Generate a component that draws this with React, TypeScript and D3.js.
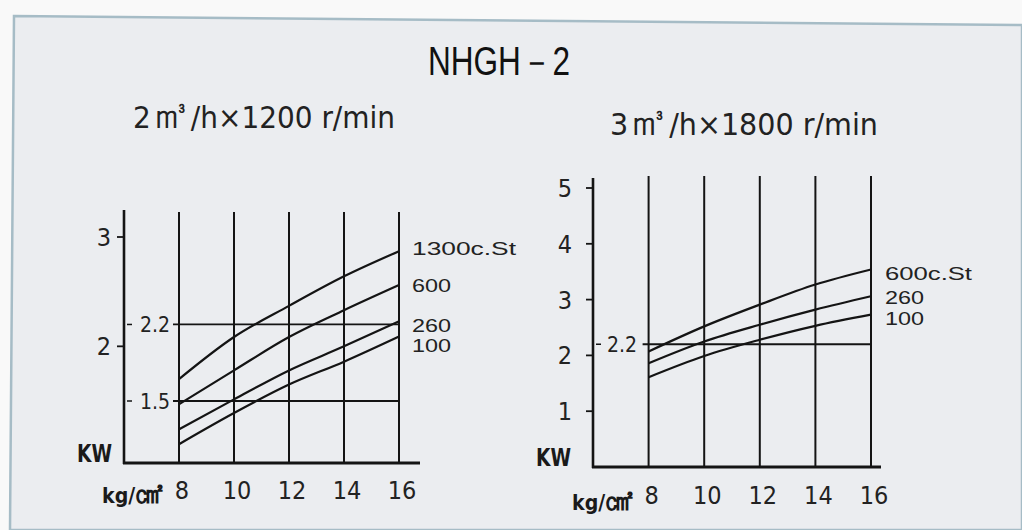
import React from "react";
import * as d3 from "d3";

const W = 1022;
const H = 530;

const title = "NHGH－2";
const leftSubtitle = ["2", "㎥", "/h×1200 r/min"];
const rightSubtitle = ["3", "㎥", "/h×1800 r/min"];

const pressures = [8, 10, 12, 14, 16];
const pressureTickLabels = ["8", "10", "12", "14", "16"];

const leftSeriesNames = ["1300c.St", "600", "260", "100"];
const left1300 = [1.70, 2.085, 2.37, 2.64, 2.87];
const left600 = [1.47, 1.78, 2.085, 2.33, 2.56];
const left260 = [1.24, 1.515, 1.78, 2.0, 2.23];
const left100 = [1.105, 1.39, 1.65, 1.86, 2.09];
const leftLabelAt = [2.90, 2.56, 2.195, 2.01];
const leftYTicks = [2, 3];
const leftRefs = [2.2, 1.5];

const rightSeriesNames = ["600c.St", "260", "100"];
const right600 = [2.07, 2.52, 2.91, 3.27, 3.54];
const right260 = [1.86, 2.25, 2.55, 2.82, 3.06];
const right100 = [1.61, 1.99, 2.28, 2.53, 2.73];
const rightLabelAt = [3.48, 3.05, 2.675];
const rightYTicks = [1, 2, 3, 4, 5];
const rightRefs = [2.2];

const yUnit = "KW";
const xUnit = ["kg/", "㎠"];

const INK = "#141414";
const NARROW = "'Liberation Sans Narrow', 'DejaVu Sans Condensed', 'Liberation Sans', sans-serif";
const SANS = "'Liberation Sans', Arial, sans-serif";

type PanelProps = {
  x0: number; x1: number; yBase: number;
  yDomain: [number, number]; yRange: [number, number];
  gridTop: number; axisTop: number; baseEnd: number;
  series: number[][]; names: string[]; labelAt: number[];
  yTicks: number[]; refs: number[];
  labelX: number; kwX: number; kgX: number; kgY: number; xLabY: number;
  refLabelDx: number; refLineStartDx: number; tickLabelX: number;
};

function Panel(p: PanelProps) {
  const x = d3.scaleLinear().domain([6, 16]).range([p.x0, p.x1]);
  const y = d3.scaleLinear().domain(p.yDomain).range(p.yRange);
  const line = d3
    .line<number>()
    .x((_, i) => x(pressures[i]))
    .y((d) => y(d))
    .curve(d3.curveMonotoneX);
  const axisX = x(6);
  return (
    <g>
      {pressures.map((v) => (
        <line key={"g" + v} x1={x(v)} x2={x(v)} y1={p.gridTop} y2={p.yBase} stroke={INK} strokeWidth={2} />
      ))}
      {p.refs.map((r) => (
        <g key={"r" + r}>
          <line x1={x(8) - p.refLineStartDx} x2={x(16)} y1={y(r)} y2={y(r)} stroke={INK} strokeWidth={1.8} />
          <line x1={axisX + 3} x2={axisX + 8} y1={y(r)} y2={y(r)} stroke={INK} strokeWidth={1.5} />
          <text x={axisX + p.refLabelDx} y={y(r)} dy="0.36em" fontSize={21} fontFamily={NARROW} fill="#222">
            {String(r)}
          </text>
        </g>
      ))}
      {p.series.map((s, i) => (
        <path key={"s" + i} d={line(s) || ""} fill="none" stroke={INK} strokeWidth={2.2} />
      ))}
      <line x1={axisX} x2={axisX} y1={p.axisTop} y2={p.yBase + 1} stroke={INK} strokeWidth={2.6} />
      {p.yTicks.map((t) => (
        <g key={"t" + t}>
          <line x1={axisX - 7} x2={axisX} y1={y(t)} y2={y(t)} stroke={INK} strokeWidth={1.8} />
          <text x={p.tickLabelX} y={y(t)} dy="0.36em" textAnchor="middle" fontSize={25} fontFamily={NARROW} fill="#222">
            {String(t)}
          </text>
        </g>
      ))}
      <line x1={axisX - 1} x2={p.baseEnd} y1={p.yBase} y2={p.yBase} stroke={INK} strokeWidth={3} />
      {pressures.map((v, i) => (
        <text key={"xl" + v} x={x(v) + 3} y={p.xLabY} textAnchor="middle" fontSize={25} fontFamily={NARROW} fill="#222">
          {pressureTickLabels[i]}
        </text>
      ))}
      {p.names.map((n, i) => (
        <text key={"n" + i} x={p.labelX} y={y(p.labelAt[i])} dy="0.36em" fontSize={19} fontFamily={SANS} fill="#222"
          textLength={n.length > 3 ? (n.length === 8 ? 104 : 87) : 39} lengthAdjust="spacingAndGlyphs">
          {n}
        </text>
      ))}
      <text x={p.kwX} y={p.yBase - 1} fontSize={25} fontWeight="bold" fontFamily={NARROW} fill="#1a1a1a"
        textLength={35} lengthAdjust="spacingAndGlyphs">{yUnit}</text>
      <text x={p.kgX} y={p.kgY} fontWeight="bold" fontFamily={NARROW} fill="#1a1a1a"
        textLength={62} lengthAdjust="spacingAndGlyphs">
        <tspan fontSize={22}>{xUnit[0]}</tspan>
        <tspan fontSize={30}>{xUnit[1]}</tspan>
      </text>
    </g>
  );
}

function Subtitle({ x, y, parts, len }: { x: number; y: number; parts: string[]; len: number }) {
  return (
    <text x={x} y={y} fontFamily={NARROW} fill="#222" textLength={len} lengthAdjust="spacingAndGlyphs">
      <tspan fontSize={31}>{parts[0]}</tspan>
      <tspan fontSize={40}>{parts[1]}</tspan>
      <tspan fontSize={31}>{parts[2]}</tspan>
    </text>
  );
}

export default function App() {
  return (
    <div style={{ position: "absolute", left: 0, top: 0 }}>
      <svg width={W} height={H} viewBox={`0 0 ${W} ${H}`} style={{ display: "block" }}>
        <rect x={0} y={0} width={W} height={H} fill="#f9f9f9" />
        <path d="M14,16 L1022,25 L1022,530 L10,530 Z" fill="#ebedf0" stroke="#a6bcc6" strokeWidth={2.5} />
        <text x={428} y={75} fontSize={40} fontFamily={SANS} fill="#111" textLength={142} lengthAdjust="spacingAndGlyphs">
          {title}
        </text>
        <Subtitle x={133} y={128} parts={leftSubtitle} len={262} />
        <Subtitle x={610} y={135} parts={rightSubtitle} len={268} />
        <Panel
          x0={124} x1={399} yBase={463}
          yDomain={[3, 1.5]} yRange={[237, 401]}
          gridTop={212} axisTop={210} baseEnd={420}
          series={[left1300, left600, left260, left100]} names={leftSeriesNames} labelAt={leftLabelAt}
          yTicks={leftYTicks} refs={leftRefs}
          labelX={412} kwX={77} kgX={102} kgY={503} xLabY={499}
          refLabelDx={16} refLineStartDx={6} tickLabelX={104}
        />
        <Panel
          x0={593} x1={871} yBase={467}
          yDomain={[0, 5]} yRange={[467, 188]}
          gridTop={176} axisTop={178} baseEnd={881}
          series={[right600, right260, right100]} names={rightSeriesNames} labelAt={rightLabelAt}
          yTicks={rightYTicks} refs={rightRefs}
          labelX={885} kwX={536} kgX={572} kgY={510} xLabY={504}
          refLabelDx={14} refLineStartDx={6} tickLabelX={565}
        />
      </svg>
    </div>
  );
}
